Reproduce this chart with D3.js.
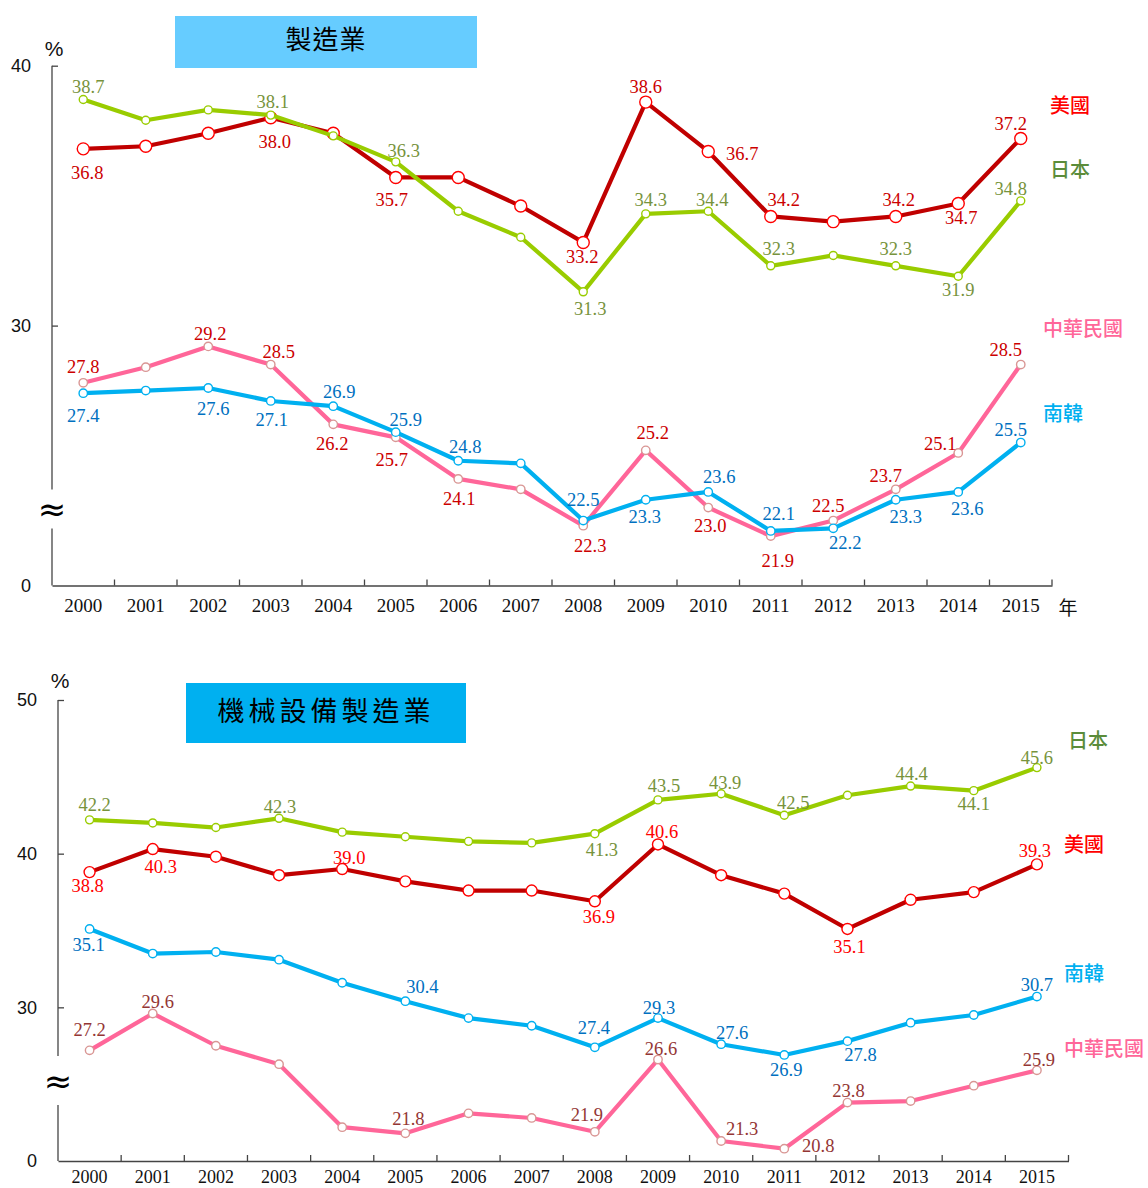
<!DOCTYPE html>
<html>
<head>
<meta charset="utf-8">
<script src="https://cdn.jsdelivr.net/npm/d3@7"></script>
<style>
  html, body { margin: 0; padding: 0; background: #fff; }
  svg { display: block; }
</style>
</head>
<body>
<svg id="chart" width="1148" height="1188"></svg>
<script>
// ---------------- DATA ----------------
const years = ['2000','2001','2002','2003','2004','2005','2006','2007','2008','2009','2010','2011','2012','2013','2014','2015'];

// 製造業
const mfgTitle = '製造業';
const mfgTicks = [20, 30, 40];
const mfgTickLabels = ['0', '30', '40'];
const usMfg = [36.8, 36.9, 37.4, 38.0, 37.4, 35.7, 35.7, 34.6, 33.2, 38.6, 36.7, 34.2, 34.0, 34.2, 34.7, 37.2];
const jpMfg = [38.7, 37.9, 38.3, 38.1, 37.3, 36.3, 34.4, 33.4, 31.3, 34.3, 34.4, 32.3, 32.7, 32.3, 31.9, 34.8];
const twMfg = [27.8, 28.4, 29.2, 28.5, 26.2, 25.7, 24.1, 23.7, 22.3, 25.2, 23.0, 21.9, 22.5, 23.7, 25.1, 28.5];
const krMfg = [27.4, 27.5, 27.6, 27.1, 26.9, 25.9, 24.8, 24.7, 22.5, 23.3, 23.6, 22.1, 22.2, 23.3, 23.6, 25.5];

// 機械設備製造業
const machTitle = '機械設備製造業';
const machTicks = [20, 30, 40, 50];
const machTickLabels = ['0', '30', '40', '50'];
const usMach = [38.8, 40.3, 39.8, 38.6, 39.0, 38.2, 37.6, 37.6, 36.9, 40.6, 38.6, 37.4, 35.1, 37.0, 37.5, 39.3];
const jpMach = [42.2, 42.0, 41.7, 42.3, 41.4, 41.1, 40.8, 40.7, 41.3, 43.5, 43.9, 42.5, 43.8, 44.4, 44.1, 45.6];
const krMach = [35.1, 33.5, 33.6, 33.1, 31.6, 30.4, 29.3, 28.8, 27.4, 29.3, 27.6, 26.9, 27.8, 29.0, 29.5, 30.7];
const twMach = [27.2, 29.6, 27.5, 26.3, 22.2, 21.8, 23.1, 22.8, 21.9, 26.6, 21.3, 20.8, 23.8, 23.9, 24.9, 25.9];

const seriesNames = { us: '美國', jp: '日本', tw: '中華民國', kr: '南韓' };

// ---------------- STYLE / LAYOUT ----------------
const styles = {
  us: { line: '#C00000', mark: '#FF0000', r: 6,   legend: '#FF0000' },
  jp: { line: '#99CC00', mark: '#99CC00', r: 4,   legend: '#5B8C3A' },
  tw: { line: '#FF6699', mark: '#D99694', r: 4.2, legend: '#FF6699' },
  kr: { line: '#00B0F0', mark: '#00B0F0', r: 4.2, legend: '#00B0F0' }
};

const svg = d3.select('#chart');
const SERIF = '"Liberation Serif", "Times New Roman", serif';
const SANS = '"Liberation Sans", Arial, sans-serif';
const CJK = '"Noto Sans CJK TC", "Noto Sans CJK SC", sans-serif';

function drawChart(cfg) {
  const g = svg.append('g');
  const x = d3.scaleBand().domain(years).range([cfg.x0, cfg.x1]);
  const y = d3.scaleLinear().domain(cfg.domain).range([cfg.yBottom, cfg.yTop]);
  const cx = d => x(d) + x.bandwidth() / 2;

  // title box
  g.append('rect').attr('x', cfg.title.x).attr('y', cfg.title.y)
    .attr('width', cfg.title.w).attr('height', cfg.title.h).attr('fill', cfg.title.fill);
  g.append('text').attr('x', cfg.title.x + cfg.title.w / 2).attr('y', cfg.title.y + cfg.title.ty)
    .attr('text-anchor', 'middle').attr('dominant-baseline', 'central')
    .style('font-family', CJK).style('font-size', cfg.title.size + 'px')
    .style('letter-spacing', cfg.title.spacing + 'px')
    .attr('fill', '#000').text(cfg.title.text);

  // y axis (ticks inward)
  const yAxis = d3.axisLeft(y).tickValues(cfg.ticks)
    .tickFormat((d, i) => cfg.tickLabels[i]).tickSize(-6).tickPadding(21);
  const ya = g.append('g').attr('transform', `translate(${cfg.x0},0)`).call(yAxis);
  ya.select('.domain').remove();
  ya.selectAll('.tick line').attr('stroke', '#444').attr('stroke-width', 1.3);
  ya.selectAll('.tick text').style('font-family', SANS).style('font-size', '18px').attr('fill', '#111');
  ya.selectAll('.tick').filter(d => d === cfg.domain[0]).select('line').remove();

  // y axis line with break
  g.append('line').attr('x1', cfg.x0).attr('x2', cfg.x0)
    .attr('y1', cfg.yTop).attr('y2', cfg.yBottom - cfg.breakHi)
    .attr('stroke', '#444').attr('stroke-width', 1.3);
  g.append('line').attr('x1', cfg.x0).attr('x2', cfg.x0)
    .attr('y1', cfg.yBottom - cfg.breakLo).attr('y2', cfg.yBottom)
    .attr('stroke', '#444').attr('stroke-width', 1.3);
  g.append('text').attr('x', cfg.x0).attr('y', cfg.yBottom - (cfg.breakHi + cfg.breakLo) / 2)
    .attr('text-anchor', 'middle').attr('dominant-baseline', 'central')
    .style('font-family', '"DejaVu Sans", sans-serif').style('font-size', '34px').attr('fill', '#000').text('≈');

  // % label
  g.append('text').attr('x', cfg.pct[0]).attr('y', cfg.pct[1])
    .attr('text-anchor', 'middle').attr('dominant-baseline', 'central')
    .style('font-family', SANS).style('font-size', '21px').attr('fill', '#111').text('%');

  // x axis
  const xAxis = d3.axisBottom(x).tickSize(0).tickPadding(cfg.xPad);
  const xa = g.append('g').attr('transform', `translate(0,${cfg.yBottom})`).call(xAxis);
  xa.select('.domain').attr('stroke', '#444').attr('stroke-width', 1.3);
  xa.selectAll('.tick text').style('font-family', SERIF).style('font-size', cfg.yearSize + 'px').attr('fill', '#111');
  // ticks at band boundaries (inward)
  const bounds = years.slice(1).map(d => x(d)).concat([cfg.x1]);
  g.append('g').selectAll('line').data(bounds).join('line')
    .attr('x1', d => d).attr('x2', d => d)
    .attr('y1', cfg.yBottom).attr('y2', cfg.yBottom - 6)
    .attr('stroke', '#444').attr('stroke-width', 1.3);
  if (cfg.yearUnit) {
    g.append('text').attr('x', cfg.yearUnit[0]).attr('y', cfg.yearUnit[1])
      .attr('text-anchor', 'middle').attr('dominant-baseline', 'central')
      .style('font-family', CJK).style('font-size', '19px').attr('fill', '#111').text('年');
  }

  // series
  const line = d3.line().x((d, i) => cx(years[i])).y(d => y(d));
  cfg.series.forEach(s => {
    const st = styles[s.key];
    const sg = g.append('g');
    sg.append('path').datum(s.values).attr('d', line)
      .attr('fill', 'none').attr('stroke', st.line).attr('stroke-width', 4.2)
      .attr('stroke-linejoin', 'round');
    sg.selectAll('circle').data(s.values).join('circle')
      .attr('cx', (d, i) => cx(years[i])).attr('cy', d => y(d)).attr('r', s.r || st.r)
      .attr('fill', '#fff').attr('stroke', st.mark).attr('stroke-width', 1.4);
    sg.selectAll('text.val').data(s.labels).join('text').attr('class', 'val')
      .attr('x', d => cx(years[d[0]]) + d[1])
      .attr('y', d => y(s.values[d[0]]) + d[2])
      .attr('dy', '0.35em').attr('text-anchor', 'middle')
      .style('font-family', SERIF).style('font-size', '18.5px')
      .attr('fill', s.labelColor)
      .text(d => s.values[d[0]].toFixed(1));
    g.append('text').attr('x', s.legend[0]).attr('y', s.legend[1])
      .attr('dominant-baseline', 'central')
      .style('font-family', CJK).style('font-size', '20px').style('font-weight', 500)
      .attr('fill', st.legend).text(seriesNames[s.key]);
  });
}

drawChart({
  x0: 52, x1: 1052, yTop: 65.7, yBottom: 585.5, domain: [20, 40],
  ticks: mfgTicks, tickLabels: mfgTickLabels,
  breakHi: 96, breakLo: 57, pct: [54, 48], xPad: 13, yearSize: 19, yearUnit: [1068, 606],
  title: { x: 175, y: 16, w: 302, h: 52, ty: 21, fill: '#66CCFF', text: mfgTitle, size: 26, spacing: 1 },
  series: [
    { key: 'us', values: usMfg, labelColor: '#CC0000', legend: [1050, 104],
      labels: [[0,4,24],[3,4,24],[5,-4,22],[8,-1,14],[9,0,-16],[10,34,2],[11,13,-17],[13,3,-17],[14,3,14],[15,-10,-15]] },
    { key: 'jp', values: jpMfg, labelColor: '#77933C', legend: [1050, 168],
      labels: [[0,5,-13],[3,2,-14],[5,8,-11],[8,7,17],[9,5,-14],[10,4,-12],[11,8,-17],[13,0,-17],[14,0,13],[15,-10,-12]] },
    { key: 'tw', values: twMfg, labelColor: '#CC0000', legend: [1043, 327],
      labels: [[0,0,-16],[2,2,-13],[3,8,-13],[4,-1,19],[5,-4,22],[6,1,20],[8,7,20],[9,7,-18],[10,2,18],[11,7,24],[12,-5,-15],[13,-10,-14],[14,-18,-9],[15,-15,-15]] },
    { key: 'kr', values: krMfg, labelColor: '#0070C0', legend: [1043, 412],
      labels: [[0,0,22],[2,5,21],[3,1,19],[4,6,-15],[5,10,-13],[6,7,-14],[8,0,-21],[9,-1,17],[10,11,-15],[11,8,-17],[12,12,14],[13,10,17],[14,9,17],[15,-10,-13]] }
  ]
});

drawChart({
  x0: 58, x1: 1068.5, yTop: 700, yBottom: 1161, domain: [20, 50],
  ticks: machTicks, tickLabels: machTickLabels,
  breakHi: 105, breakLo: 56, pct: [60, 680], xPad: 9, yearSize: 18, yearUnit: null,
  title: { x: 186, y: 683, w: 280, h: 60, ty: 26, fill: '#00B0F0', text: machTitle, size: 27, spacing: 4 },
  series: [
    { key: 'us', values: usMach, labelColor: '#FF0000', r: 5.5, legend: [1064, 843],
      labels: [[0,-2,13],[1,8,17],[4,7,-12],[8,4,15],[9,4,-13],[12,2,18],[15,-2,-14]] },
    { key: 'jp', values: jpMach, labelColor: '#77933C', legend: [1068, 739],
      labels: [[0,5,-15],[3,1,-12],[8,7,16],[9,6,-14],[10,4,-11],[11,9,-13],[13,1,-13],[14,0,13],[15,0,-10]] },
    { key: 'kr', values: krMach, labelColor: '#0070C0', legend: [1064, 972],
      labels: [[0,-1,16],[5,17,-15],[8,-1,-20],[9,1,-11],[10,11,-12],[11,2,15],[12,13,13],[15,0,-12]] },
    { key: 'tw', values: twMach, labelColor: '#943634', legend: [1064, 1047],
      labels: [[0,0,-21],[1,5,-12],[5,3,-15],[8,-8,-17],[9,3,-11],[10,21,-12],[11,34,-3],[12,1,-12],[15,2,-11]] }
  ]
});
</script>
</body>
</html>
